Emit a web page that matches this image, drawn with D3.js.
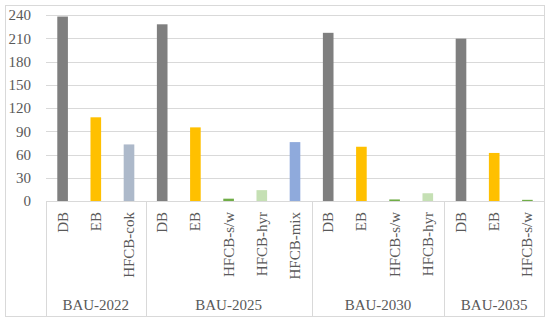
<!DOCTYPE html>
<html>
<head>
<meta charset="utf-8">
<script src="https://cdn.jsdelivr.net/npm/d3@7"></script>
<style>
body { margin: 0; background: #fff; }
text { font-family: "Palatino Linotype", "Book Antiqua", Palatino, "Liberation Serif", serif; fill: #595959; }
</style>
</head>
<body>
<div id="chart-area"></div>
<script>
// data
var scenarios = ["BAU-2022", "BAU-2025", "BAU-2030", "BAU-2035"];
var groupItems = [
    ["DB", "EB", "HFCB-cok"],
    ["DB", "EB", "HFCB-s/w", "HFCB-hyr", "HFCB-mix"],
    ["DB", "EB", "HFCB-s/w", "HFCB-hyr"],
    ["DB", "EB", "HFCB-s/w"]
];
var groupValues = [
    [238, 108, 73],
    [228, 95, 3, 14, 76],
    [217, 70, 2, 10],
    [209.5, 62, 1.5]
];
var yTicks = [0, 30, 60, 90, 120, 150, 180, 210, 240];
var itemColors = {
    "DB": "#7f7f7f",
    "EB": "#ffc000",
    "HFCB-cok": "#adb9ca",
    "HFCB-s/w": "#70ad47",
    "HFCB-hyr": "#c5e0b4",
    "HFCB-mix": "#8faadc"
};

var W = 550, H = 323;
var plotLeft = 46, plotRight = 544, plotTop = 15, base = 201, plotBottom = 316;

var svg = d3.select("#chart-area").append("svg")
    .attr("width", W)
    .attr("height", H);

// outer border
svg.append("rect")
    .attr("x", 5.5).attr("y", 5.5)
    .attr("width", 539).attr("height", 311)
    .attr("fill", "none")
    .attr("stroke", "#d9d9d9");

// flatten bars
var bars = [];
scenarios.forEach(function(s, i) {
    groupItems[i].forEach(function(item, j) {
        bars.push({ key: s + "|" + item, scen: s, item: item, value: groupValues[i][j] });
    });
});

var x = d3.scaleBand()
    .domain(bars.map(d => d.key))
    .range([plotLeft, plotRight])
    .paddingInner(0.68)
    .paddingOuter(0.34);

var y = d3.scaleLinear()
    .domain([0, 240])
    .range([base, plotTop]);

// gridlines
svg.append("g").selectAll("line")
    .data(yTicks.slice(1))
    .enter().append("line")
        .attr("x1", plotLeft).attr("x2", plotRight)
        .attr("y1", d => Math.round(y(d)) + 0.5)
        .attr("y2", d => Math.round(y(d)) + 0.5)
        .attr("stroke", "#d9d9d9")
        .attr("stroke-width", 1);

// y axis labels
var yAxis = d3.axisLeft(y).tickValues(yTicks).tickSize(0).tickPadding(15);
var yg = svg.append("g")
    .attr("transform", "translate(" + plotLeft + ",0)")
    .call(yAxis);
yg.select(".domain").remove();
yg.selectAll("text")
    .attr("font-size", "15px")
    .attr("font-family", null)
    .attr("fill", "#595959");

// bars
svg.append("g").selectAll("rect")
    .data(bars)
    .enter().append("rect")
        .attr("x", d => x(d.key))
        .attr("y", d => y(d.value))
        .attr("width", x.bandwidth())
        .attr("height", d => base - y(d.value))
        .attr("fill", d => itemColors[d.item]);

// category axis line
svg.append("line")
    .attr("x1", plotLeft).attr("x2", plotRight)
    .attr("y1", base + 0.5).attr("y2", base + 0.5)
    .attr("stroke", "#d9d9d9");

// group separators
var step = x.step();
var bounds = [plotLeft];
var count = 0;
groupItems.forEach(function(g) {
    count += g.length;
    bounds.push(plotLeft + count * step);
});
svg.append("g").selectAll("line")
    .data(bounds.slice(0, bounds.length - 1))
    .enter().append("line")
        .attr("x1", d => Math.round(d) + 0.5).attr("x2", d => Math.round(d) + 0.5)
        .attr("y1", base).attr("y2", plotBottom)
        .attr("stroke", "#d9d9d9");

// item labels (rotated)
svg.append("g").selectAll("text")
    .data(bars)
    .enter().append("text")
        .attr("transform", d => "translate(" + (x(d.key) + x.bandwidth() / 2 + 5) + "," + (base + 11) + ") rotate(-90)")
        .attr("text-anchor", "end")
        .attr("font-size", "15px")
        .text(d => d.item);

// scenario labels
svg.append("g").selectAll("text")
    .data(scenarios)
    .enter().append("text")
        .attr("x", (d, i) => (bounds[i] + bounds[i + 1]) / 2)
        .attr("y", 310)
        .attr("text-anchor", "middle")
        .attr("font-size", "15px")
        .text(d => d);
</script>
</body>
</html>
